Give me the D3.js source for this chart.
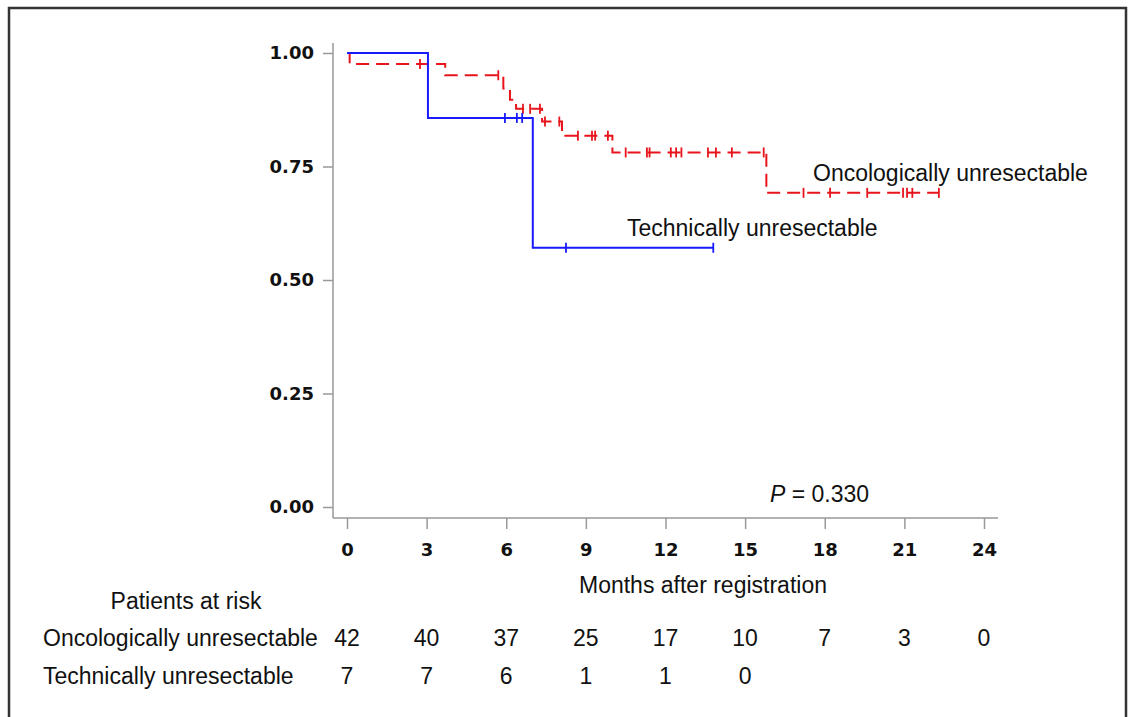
<!DOCTYPE html>
<html>
<head>
<meta charset="utf-8">
<script src="https://cdn.jsdelivr.net/npm/d3@7"></script>
<style>
    body { margin: 0; background: #fff; }
</style>
</head>
<body>
<div id="chart-area"></div>
<script>
/*
*    Kaplan-Meier, patients at risk
*/

// step times (months) and survival right after each step
var oncoTimes = [0, 0.1, 3.7, 5.89, 6.14, 6.37, 7.35, 8.1, 10.0, 15.8];
var oncoSurv  = [1.0, 0.976, 0.951, 0.922, 0.897, 0.877, 0.849, 0.818, 0.781, 0.692];
var oncoEnd = 22.3;
var oncoCensor = [2.75, 5.7, 6.63, 6.9, 7.27, 7.46, 8.0, 8.7, 9.23, 9.35, 9.83, 10.5, 11.3, 11.4,
                  12.2, 12.4, 12.6, 13.6, 13.9, 14.5, 15.7, 17.2, 18.2, 19.6, 20.95, 21.1, 21.3, 22.3];

var techTimes = [0, 3.05, 7.0];
var techSurv  = [1.0, 0.857, 0.571];
var techEnd = 13.8;
var techCensor = [5.95, 6.4, 6.6, 8.25, 13.8];

var monthTicks = [0, 3, 6, 9, 12, 15, 18, 21, 24];
var survTicks = [0, 0.25, 0.5, 0.75, 1];

var groupNames = ["Oncologically unresectable", "Technically unresectable"];
var oncoRisk = [42, 40, 37, 25, 17, 10, 7, 3, 0];
var techRisk = [7, 7, 6, 1, 1, 0];

var svg = d3.select("#chart-area").append("svg")
    .attr("width", 1130)
    .attr("height", 717);

// frame
svg.append("rect")
    .attr("x", 9).attr("y", 8)
    .attr("width", 1117).attr("height", 730)
    .attr("fill", "none")
    .attr("stroke", "#333")
    .attr("stroke-width", 2.5);

var x = d3.scaleLinear().domain([0, 24]).range([347, 984]);
var y = d3.scaleLinear().domain([0, 1]).range([507, 53]);

var tickFont = "'DejaVu Sans', Verdana, sans-serif";
var textFont = "'Liberation Sans', Arial, sans-serif";
var axisColor = "#999";

// y axis
var yAxis = d3.axisLeft(y)
    .tickValues(survTicks)
    .tickFormat(d3.format(".2f"))
    .tickSize(10)
    .tickPadding(9);
var gy = svg.append("g").attr("transform", "translate(333,0)").call(yAxis);
gy.select(".domain").remove();
gy.append("line")
    .attr("x1", 0).attr("x2", 0)
    .attr("y1", y(1) - 10).attr("y2", 518)
    .attr("stroke", axisColor).attr("stroke-width", 1.5);

// x axis
var xAxis = d3.axisBottom(x)
    .tickValues(monthTicks)
    .tickSize(11)
    .tickPadding(14);
var gx = svg.append("g").attr("transform", "translate(0,518)").call(xAxis);
gx.select(".domain").remove();
gx.append("line")
    .attr("x1", 333).attr("x2", 998)
    .attr("y1", 0).attr("y2", 0)
    .attr("stroke", axisColor).attr("stroke-width", 1.5);

[gx, gy].forEach((g) => {
    g.selectAll(".tick line").attr("stroke", axisColor).attr("stroke-width", 1.5);
    g.selectAll(".tick text")
        .attr("fill", "#111")
        .style("font-family", tickFont)
        .style("font-weight", "bold")
        .style("font-size", "18px");
});

// survival curves
var stepLine = d3.line()
    .x((d) => x(d[0]))
    .y((d) => y(d[1]))
    .curve(d3.curveStepAfter);

function stepPoints(times, surv, end) {
    var pts = times.map((t, i) => [t, surv[i]]);
    pts.push([end, surv[surv.length - 1]]);
    return pts;
}

function survAt(times, surv, t) {
    var i = d3.bisectRight(times, t) - 1;
    return surv[Math.max(i, 0)];
}

var curves = [
    {times: oncoTimes, surv: oncoSurv, end: oncoEnd, censor: oncoCensor, color: "#e8141b", dash: "13,7"},
    {times: techTimes, surv: techSurv, end: techEnd, censor: techCensor, color: "#1a1aff", dash: null}
];

curves.forEach((c) => {
    svg.append("path")
        .datum(stepPoints(c.times, c.surv, c.end))
        .attr("d", stepLine)
        .attr("fill", "none")
        .attr("stroke", c.color)
        .attr("stroke-width", 2)
        .attr("stroke-dasharray", c.dash);

    svg.selectAll(null).data(c.censor).enter()
        .append("line")
            .attr("x1", (d) => x(d))
            .attr("x2", (d) => x(d))
            .attr("y1", (d) => y(survAt(c.times, c.surv, d)) - 5)
            .attr("y2", (d) => y(survAt(c.times, c.surv, d)) + 5)
            .attr("stroke", c.color)
            .attr("stroke-width", 1.8);
});

// labels
function label(txt, px, py, anchor) {
    return svg.append("text")
        .attr("x", px).attr("y", py)
        .attr("text-anchor", anchor || "start")
        .style("font-family", textFont)
        .style("font-size", "23px")
        .attr("fill", "#111")
        .text(txt);
}

label(groupNames[0], 813, 181);
label(groupNames[1], 627, 236);

var pText = label("", 770, 502);
pText.append("tspan").style("font-style", "italic").text("P");
pText.append("tspan").text(" = 0.330");

label("Months after registration", 703, 593, "middle");
label("Patients at risk", 186, 609, "middle");

// risk table
label(groupNames[0], 43, 646);
label(groupNames[1], 43, 684);

[oncoRisk, techRisk].forEach((row, r) => {
    svg.selectAll(null).data(row).enter()
        .append("text")
            .attr("x", (d, i) => x(monthTicks[i]))
            .attr("y", 646 + r * 38)
            .attr("text-anchor", "middle")
            .style("font-family", textFont)
            .style("font-size", "23px")
            .attr("fill", "#111")
            .text((d) => d);
});
</script>
</body>
</html>
